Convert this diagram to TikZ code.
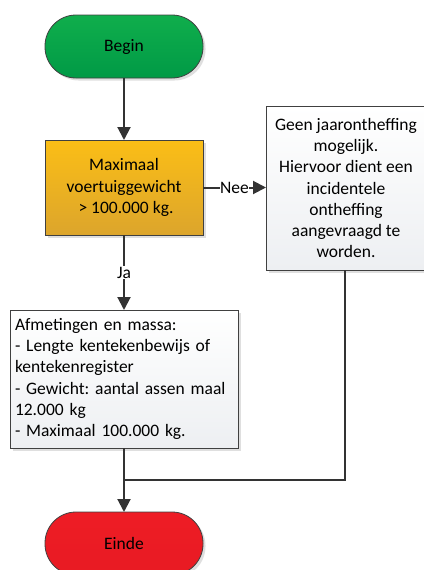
\documentclass[tikz,border=0pt]{standalone}
\usepackage{fontspec}
\setmainfont{Carlito}
\frenchspacing
\usetikzlibrary{arrows.meta,shadows}
\definecolor{bordc}{HTML}{404040}
\definecolor{linec}{HTML}{333333}
\definecolor{gtop}{HTML}{10AE4C}
\definecolor{gbot}{HTML}{009A46}
\definecolor{rtop}{HTML}{EE1C25}
\definecolor{rbot}{HTML}{E81B23}
\definecolor{otop}{HTML}{FBBE16}
\definecolor{obot}{HTML}{DCA52C}
\definecolor{wbot}{HTML}{EDEFF2}
\tikzset{
  base/.style={draw=bordc, line width=0.8pt, outer sep=0pt, inner sep=0pt,
    font=\fontsize{17.5}{21.3}\selectfont\frenchspacing, text=black,
    drop shadow={opacity=0.25, shadow xshift=2.5pt, shadow yshift=-2.5pt}},
  terminal/.style={base, rounded corners=31pt, minimum width=158pt, minimum height=63pt, shading=axis},
  startterm/.style={terminal, top color=gtop, bottom color=gbot},
  endterm/.style={terminal, top color=rtop, bottom color=rbot},
  decisionbox/.style={base, minimum width=158pt, minimum height=95pt, align=center, shading=axis, top color=otop, bottom color=obot},
  procbox/.style={base, shading=axis, top color=white, bottom color=wbot},
  conn/.style={draw=linec, line width=2pt},
  arr/.style={conn, -{Triangle[length=13pt,width=13pt]}},
  lbl/.style={fill=white, inner sep=0.5pt, font=\fontsize{17.5}{21.3}\selectfont}
}
\begin{document}
\begin{tikzpicture}[x=1pt,y=-1pt]
\useasboundingbox (0,0) rectangle (423,570);
\node[startterm] (begin) at (124,46.5) {Begin};
\node[decisionbox] (dec) at (124,187.5) {Maximaal\\voertuiggewicht\\\ > 100.000 kg.};
\node[procbox, minimum width=160pt, minimum height=164pt, align=center] (geen) at (346,188)
  {Geen jaarontheffing\\mogelijk.\\Hiervoor dient een\\incidentele\\ontheffing\\aangevraagd te\\worden.};
\node[procbox, minimum width=228pt, minimum height=138pt, text width=218pt, align=left] (afm) at (124,379)
  {Afmetingen en massa:\\- Lengte kentekenbewijs of\\kentekenregister\\- Gewicht: aantal assen maal\\12.000 kg\\- Maximaal 100.000 kg.};
\node[endterm] (einde) at (124,543.5) {Einde};
\coordinate (join) at (124,480);
\draw[arr] (begin.south) -- (dec.north);
\draw[arr] (dec.east) -- node[lbl] {Nee} (dec.east -| geen.west);
\draw[arr] (dec.south) -- node[lbl] {Ja} (afm.north);
\draw[arr] (afm.south) -- (einde.north);
\draw[conn] (geen.south -| 345,0) |- (join);
\end{tikzpicture}
\end{document}
